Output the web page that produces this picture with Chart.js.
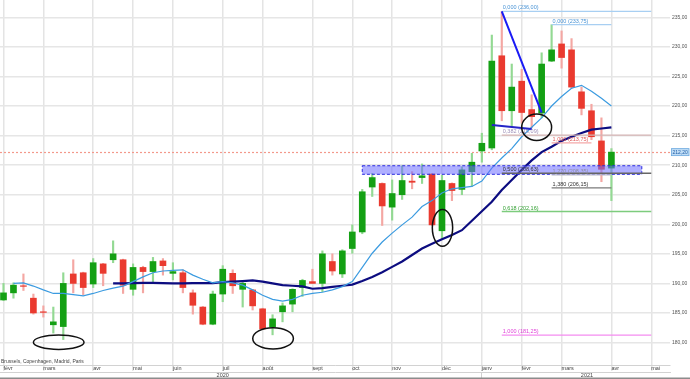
<!DOCTYPE html>
<html><head><meta charset="utf-8">
<script src="https://cdn.jsdelivr.net/npm/chart.js@4.4.1/dist/chart.umd.min.js"></script>
<style>html,body{margin:0;padding:0;background:#fff;}#wrap{width:690px;height:379px;position:relative;}</style>
</head><body><div id="wrap"><canvas id="c"></canvas></div>
<script>
// Weekly candles (index 0 = first week of févr 2020)
const opens  = [187.2,188.4,189.6,187.5,185.2,183.0,182.7,191.6,191.8,189.9,193.3,194.0,194.0,189.0,192.7,192.0,193.8,191.7,191.8,188.4,186.0,183.1,188.2,191.7,189.0,188.9,185.7,182.6,185.2,186.5,189.3,190.3,190.0,193.7,191.6,195.9,198.7,206.3,206.9,202.9,205.0,207.3,207.9,208.5,198.9,206.9,205.9,208.9,212.4,212.9,228.5,219.2,224.2,219.4,218.8,227.6,230.5,229.5,222.4,219.2,214.1,209.5];
const highs  = [190.0,190.1,191.6,188.2,186.2,186.0,191.8,194.0,191.9,194.2,193.4,197.2,194.1,193.3,192.9,194.4,194.2,193.5,192.3,188.9,186.1,188.7,193.0,192.3,190.5,189.0,185.8,184.7,186.7,189.1,190.7,192.4,195.5,195.0,195.7,199.9,205.9,208.6,207.0,207.5,209.9,208.9,210.2,208.6,208.3,207.0,209.7,212.0,215.4,232.0,236.0,227.1,226.2,221.9,229.0,233.75,232.7,231.4,223.2,220.3,218.0,212.8];
const lows   = [187.1,187.5,188.8,184.8,184.3,181.6,180.5,188.4,188.1,189.3,189.6,193.5,188.3,188.0,188.4,190.1,191.4,190.6,188.4,184.8,183.0,183.0,186.9,188.3,186.0,185.5,182.2,181.3,183.5,185.2,187.8,190.0,188.6,191.4,191.0,195.1,198.4,204.7,199.8,200.7,204.2,206.0,206.9,199.8,197.5,204.0,205.0,206.4,210.5,212.6,217.5,216.5,217.1,216.3,218.0,227.5,226.4,223.0,218.5,214.3,207.2,204.0];
const closes = [188.4,189.7,189.5,185.0,185.1,183.5,190.0,190.0,189.3,193.5,191.7,195.0,189.7,192.7,192.0,193.7,193.0,192.0,189.3,186.3,183.1,188.2,192.4,189.6,190.0,186.2,182.3,184.0,186.2,189.0,190.5,190.0,195.0,192.1,195.5,198.7,205.5,207.9,203.1,205.2,207.4,207.1,208.2,199.9,207.4,205.7,209.2,210.5,213.7,227.6,219.2,223.2,218.9,218.2,227.1,229.5,228.2,223.2,219.6,214.8,209.3,212.2];
// Moving averages
const maShort = [null,190.0,190.1,189.55,188.9,188.3,188.3,188.1,187.9,188.3,188.8,189.2,189.55,190.3,191.1,191.8,192.1,192.2,192.3,191.4,190.7,190.1,190.3,190.1,189.7,188.9,188.0,187.3,187.0,187.3,188.0,188.3,188.5,188.9,189.45,190.3,192.7,195.1,197.0,198.5,199.9,201.2,203.0,204.0,205.3,206.0,206.2,206.4,207.3,209.5,211.2,212.8,214.8,216.4,218.0,220.0,221.6,223.0,223.5,222.5,221.3,220.0];
const maLong = [null,null,null,null,null,null,null,null,null,null,null,190.0,190.0,190.05,190.1,190.1,190.05,190.0,190.0,190.05,190.05,190.05,190.2,190.3,190.4,190.5,190.3,190.0,189.7,189.6,189.5,189.1,189.2,189.4,189.6,189.8,190.4,191.1,191.9,192.8,193.7,194.8,195.9,196.7,197.45,198.2,199.0,200.6,202.2,203.8,205.8,207.5,209.2,210.8,212.2,213.1,214.1,214.8,215.45,216.0,216.2,216.4];
// Axis labels
const monthTicks  = [0,4,9,13,17,22,26,31,35,39,44,48,52,56,61,65];
const monthLabels = ['févr','mars','avr','mai','juin','juil','août','sept','oct','nov','déc','janv','févr','mars','avr','mai'];
const yearTicks  = [22,48,58.55];
const yearLabels = ['2020','','2021'];
const marketText = 'Brussels, Copenhagen, Madrid, Paris';
const lastPrice = 212.2;
// Fibonacci retracement (236,00 -> 181,25)
const fibALevels = ['0,000','0,382','0,500','0,618','1,000'];
const fibAValues = [236.00,215.09,208.63,202.16,181.25];
const fibASpan = [50,65];
// Fibonacci extension (233,75 / 213,75)
const fibBLevels = ['0,000','1,000','1,270','1,380'];
const fibBValues = [233.75,213.75,208.35,206.15];
const fibBEnds = [61,59,61,61];
const fibBStart = 55;
// Drawn trend lines [x0,y0,x1,y1] and zone, ellipses [cx,cy,rx,ry] in data units
const trendLines = [[50,236.0,54,218.9],[49,216.8,53,216.1]];
const zoneBox = [36,64.05,208.45,209.9];
const ellipses = [[5.54,180.05,2.54,1.22],[27.05,180.7,2.04,1.81],[44.05,199.4,1.02,3.1],[53.5,216.4,1.5,2.23]];

const fmt = v => v.toFixed(2).replace('.', ',');
const GREEN='#14a014', RED='#ea3a2f', GREENW='#93d993', REDW='#f4a7a3';
const isUp = closes.map((c,i)=>c>=opens[i]);

const fibAStyle = [['#a8cff2','#4a94d6'],['#d4b3b3','#9e90b8'],['#666666','#333333'],['#7dcc7d','#33a033'],['#f48cf0','#e040d8']];
const fibBStyle = [['#a8cff2','#4a94d6'],['#f4a9a9','#e05a5a'],['#b8b8c8','#8c8ca0'],['#7a7a7a','#333333']];

const overlay = {
  id:'overlay',
  beforeDatasetsDraw(chart){
    const {ctx, chartArea:a, scales:{y}} = chart;
    ctx.save();
    ctx.strokeStyle='#f3988b'; ctx.lineWidth=1.2; ctx.setLineDash([2,2]);
    const py=Math.round(y.getPixelForValue(lastPrice))+0.5;
    ctx.beginPath(); ctx.moveTo(a.left,py); ctx.lineTo(a.right,py); ctx.stroke();
    ctx.restore();
  },
  afterDatasetsDraw(chart){
    const {ctx, chartArea:a, scales:{x,y}} = chart;
    const X=v=>x.getPixelForValue(v), Y=v=>y.getPixelForValue(v);
    ctx.save();
    // zone
    const zx0=X(zoneBox[0]), zx1=X(zoneBox[1]), zy0=Y(zoneBox[3]), zy1=Y(zoneBox[2]);
    ctx.fillStyle='rgba(110,110,255,0.55)';
    ctx.fillRect(zx0,zy0,zx1-zx0,zy1-zy0);
    ctx.strokeStyle='#2b2be0'; ctx.lineWidth=1; ctx.setLineDash([3,2]);
    ctx.strokeRect(zx0,zy0,zx1-zx0,zy1-zy0);
    ctx.setLineDash([]);
    // fib lines
    ctx.font='5.5px "Liberation Sans", Arial, sans-serif';
    ctx.textAlign='left'; ctx.textBaseline='alphabetic';
    const drawFib=(lvl,val,x0,x1,st)=>{
      const py=Y(val);
      ctx.strokeStyle=st[0]; ctx.lineWidth=1.3;
      ctx.beginPath(); ctx.moveTo(X(x0),py); ctx.lineTo(X(x1),py); ctx.stroke();
      ctx.fillStyle=st[1];
      ctx.fillText(lvl+' ('+fmt(val)+')', X(x0)+1, py-2);
    };
    fibALevels.forEach((l,i)=>drawFib(l,fibAValues[i],fibASpan[0],fibASpan[1],fibAStyle[i]));
    fibBLevels.forEach((l,i)=>drawFib(l,fibBValues[i],fibBStart,fibBEnds[i],fibBStyle[i]));
    // trend lines
    const tlColors=['#1a1af5','#2424c8'];
    trendLines.forEach((t,i)=>{
      ctx.strokeStyle=tlColors[i]; ctx.lineWidth=2;
      ctx.beginPath(); ctx.moveTo(X(t[0]),Y(t[1])); ctx.lineTo(X(t[2]),Y(t[3])); ctx.stroke();
    });
    // ellipses
    ctx.strokeStyle='#111'; ctx.lineWidth=1.5;
    ellipses.forEach(e=>{
      const cx=X(e[0]), cy=Y(e[1]);
      const rx=Math.abs(X(e[0]+e[2])-cx), ry=Math.abs(Y(e[1]+e[3])-cy);
      ctx.beginPath(); ctx.ellipse(cx,cy,rx,ry,0,0,Math.PI*2); ctx.stroke();
    });
    // caption
    ctx.font='5px "Liberation Sans", Arial, sans-serif';
    ctx.fillStyle='#444'; ctx.textBaseline='middle';
    ctx.fillText(marketText, a.left+1, a.bottom-3);
    ctx.restore();
  },
  afterDraw(chart){
    const {ctx, chartArea:a, scales:{y}} = chart;
    const py=y.getPixelForValue(lastPrice);
    ctx.save();
    ctx.fillStyle='#bfdcf5'; ctx.fillRect(a.right+1.5,py-3.5,17.5,7);
    ctx.strokeStyle='#6aa8df'; ctx.lineWidth=0.8; ctx.strokeRect(a.right+1.5,py-3.5,17.5,7);
    ctx.fillStyle='#1f5fa8'; ctx.font='5px "Liberation Sans", Arial, sans-serif';
    ctx.textAlign='left'; ctx.textBaseline='middle';
    ctx.fillText(fmt(lastPrice), a.right+2.5, py+0.3);
    // bottom frame edge
    ctx.fillStyle='#8c8c8c'; ctx.fillRect(0, chart.height-1.5, chart.width, 1.5);
    ctx.restore();
  }
};

const wickData = highs.map((h,i)=>({x:i,y:[lows[i],h]}));
const bodyData = opens.map((o,i)=>({x:i,y:[o,closes[i]]}));
const toXY = arr => arr.map((v,i)=>({x:i,y:v}));

const tickFont = {family:'"Liberation Sans", Arial, sans-serif', size:5.5};

new Chart(document.getElementById('c'), {
  type:'bar',
  data:{datasets:[
    {type:'line', data:toXY(maShort), borderColor:'#3b9be0', borderWidth:1.2, pointRadius:0, tension:0, spanGaps:false, order:1},
    {type:'line', data:toXY(maLong), borderColor:'#0c0c80', borderWidth:2.2, pointRadius:0, tension:0, spanGaps:false, order:2},
    {type:'bar', data:bodyData, grouped:false, barThickness:6, backgroundColor:isUp.map(u=>u?GREEN:RED), borderWidth:0, order:3},
    {type:'bar', data:wickData, grouped:false, barThickness:1.5, backgroundColor:isUp.map(u=>u?GREENW:REDW), borderWidth:0, order:4}
  ]},
  options:{
    responsive:true, maintainAspectRatio:false, animation:false, devicePixelRatio:1,
    layout:{padding:0},
    plugins:{legend:{display:false}, tooltip:{enabled:false}},
    events:[],
    scales:{
      x:{type:'linear', position:'bottom', weight:0, offset:false, min:-0.351, max:66.88,
        afterBuildTicks:s=>{s.ticks=monthTicks.map(v=>({value:v}));},
        afterFit:s=>{s.height=7; s.paddingLeft=0; s.paddingRight=0;},
        ticks:{autoSkip:false, maxRotation:0, align:'start', padding:-6, color:'#444', font:tickFont,
          callback:(v,i)=>monthLabels[i]},
        grid:{offset:false, color:'#e4e4e4', lineWidth:1.5, drawTicks:true, tickLength:6},
        border:{display:true, color:'#d2d2d2', width:1}
      },
      x2:{type:'linear', position:'bottom', weight:1, offset:false, min:-0.351, max:66.88,
        afterBuildTicks:s=>{s.ticks=yearTicks.map(v=>({value:v}));},
        afterFit:s=>{s.height=7; s.paddingLeft=0; s.paddingRight=0;},
        ticks:{autoSkip:false, maxRotation:0, align:'center', padding:-7, color:'#444', font:tickFont,
          callback:(v,i)=>yearLabels[i]},
        grid:{offset:false, drawOnChartArea:false, drawTicks:true, tickLength:7, lineWidth:1,
          color:c=>(c.index===1?'#d0d0d0':'rgba(0,0,0,0)')},
        border:{display:true, color:'#d2d2d2', width:1}
      },
      y:{type:'linear', position:'right', min:176.2, max:237.93,
        afterFit:s=>{s.width=20; s.paddingTop=0; s.paddingBottom=0;},
        ticks:{stepSize:5, includeBounds:false, padding:2, color:'#555',
          font:{family:'"Liberation Sans", Arial, sans-serif', size:5},
          callback:v=>fmt(v)},
        grid:{color:'#e6e6e6', lineWidth:1.5, drawTicks:false},
        border:{display:false}
      }
    }
  },
  plugins:[overlay]
});
</script>
</body></html>
